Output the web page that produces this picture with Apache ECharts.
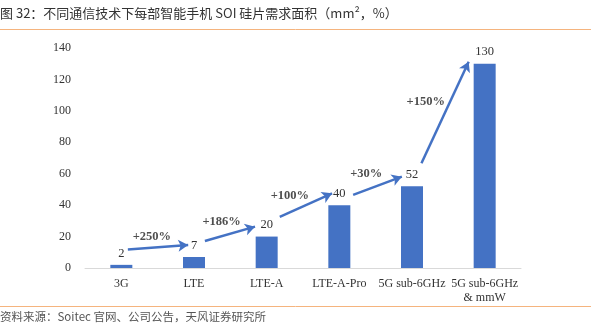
<!DOCTYPE html>
<html><head><meta charset="utf-8">
<script src="https://cdn.jsdelivr.net/npm/echarts@6/dist/echarts.min.js"></script>
<style>html,body{margin:0;padding:0;background:#fff}#c{width:598px;height:327px}</style>
</head><body><div id="c"></div>
<script>
const categories = ['3G', 'LTE', 'LTE-A', 'LTE-A-Pro', '5G sub-6GHz', '5G sub-6GHz\n& mmW'];
const values = [2, 7, 20, 40, 52, 130];
const yTicks = [0, 20, 40, 60, 80, 100, 120, 140];
const growthLabels = ['+250%', '+186%', '+100%', '+30%', '+150%'];
// annotation anchors (in axis units: category index, value)
const arrowStarts = [[0.09, 11.8], [1.15, 17.2], [2.18, 32.6], [3.19, 46.5], [4.13, 66.6]];
const arrowEnds = [[0.92, 14.6], [1.84, 26.3], [2.90, 47.5], [3.86, 58.1], [4.78, 131.3]];
const growthPos = [[0.42, 19.9], [1.38, 29.5], [2.32, 45.8], [3.37, 59.8], [4.19, 105.8]];

const chart = echarts.init(document.getElementById('c'), null, {renderer: 'canvas'});
const blue = '#4472C4';
const serif = '"Liberation Serif", "Times New Roman", serif';
const sans = '"Noto Sans CJK SC", "Noto Sans", sans-serif';

chart.setOption({
  animation: false,
  backgroundColor: '#fff',
  graphic: [
    {type: 'text', left: 0, top: 7, style: {text: '图 32：不同通信技术下每部智能手机 SOI 硅片需求面积（mm²，%）', font: '13px ' + sans, fill: '#333'}},
    {type: 'line', shape: {x1: 0, y1: 29.5, x2: 591, y2: 29.5}, style: {stroke: '#F5B47E', lineWidth: 1}},
    {type: 'line', shape: {x1: 0, y1: 306.5, x2: 591, y2: 306.5}, style: {stroke: '#F5B47E', lineWidth: 1}},
    {type: 'text', left: 0, top: 311, style: {text: '资料来源：Soitec 官网、公司公告，天风证券研究所', font: '11.5px ' + sans, fill: '#555'}}
  ],
  grid: {left: 85, right: 77, top: 48, bottom: 59, containLabel: false},
  xAxis: [
    {type: 'category', data: categories,
     axisLine: {lineStyle: {color: '#d9d9d9', width: 1}}, axisTick: {show: false},
     axisLabel: {color: '#333', fontFamily: serif, fontSize: 12, margin: 9, lineHeight: 14, interval: 0}},
    {type: 'value', min: -0.5, max: 5.5, show: false}
  ],
  yAxis: [{type: 'value', min: 0, max: 140, interval: 20,
    axisLine: {show: false}, axisTick: {show: false}, splitLine: {show: false},
    axisLabel: {color: '#333', fontFamily: serif, fontSize: 12, margin: 14}}],
  series: [
    {type: 'bar', data: values, barWidth: 22, itemStyle: {color: blue},
     label: {show: true, position: 'top', distance: 5, color: '#333', fontFamily: serif, fontSize: 12.5}},
    {type: 'scatter', xAxisIndex: 1, yAxisIndex: 0, symbolSize: 0, silent: true,
     data: growthPos.map((p, i) => ({value: p, name: growthLabels[i]})),
     label: {show: true, position: 'inside', formatter: '{b}', color: '#222', fontFamily: serif, fontWeight: 'bold', fontSize: 12.5},
     markLine: {silent: true, symbol: ['none', 'arrow'], symbolSize: [9, 10], label: {show: false},
       lineStyle: {color: blue, width: 2.5, type: 'solid'},
       emphasis: {disabled: true},
       data: arrowStarts.map((s, i) => [{coord: s}, {coord: arrowEnds[i]}])}
    }
  ]
});
</script></body></html>
